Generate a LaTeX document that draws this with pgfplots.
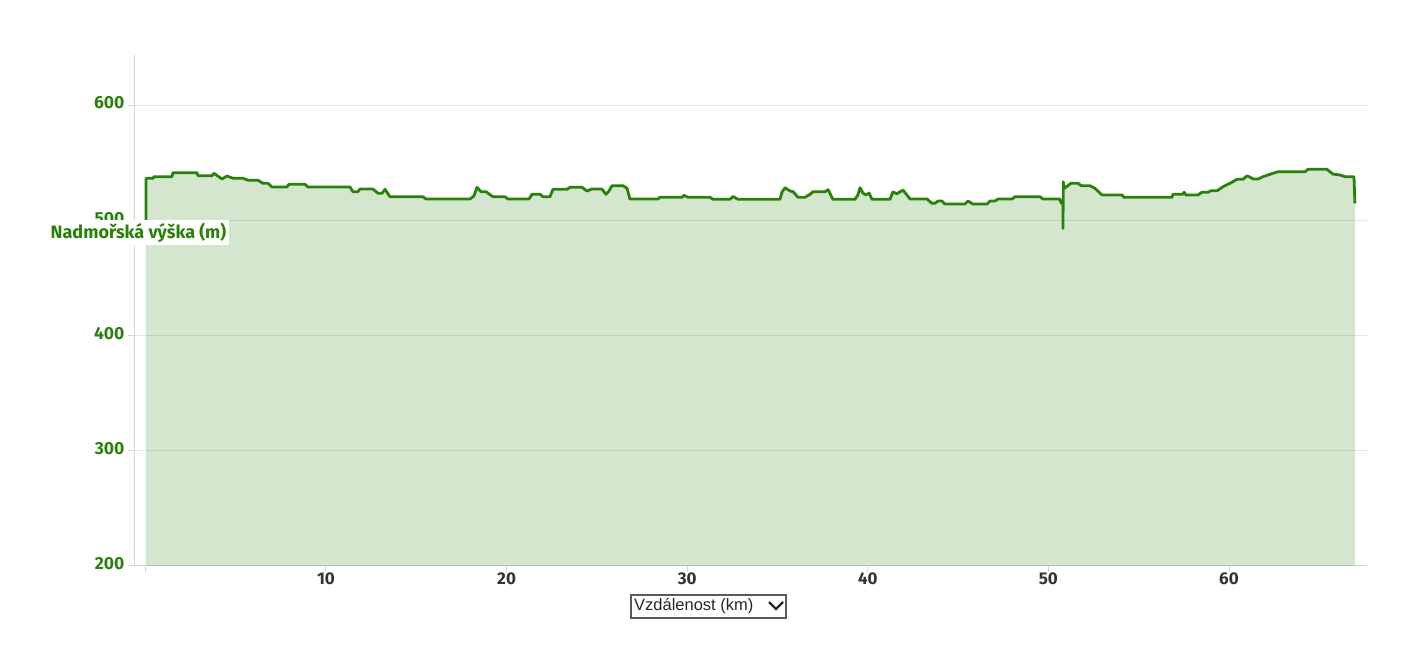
\documentclass[border=0pt]{standalone}
\usepackage{pgfplots}
\pgfplotsset{compat=1.18}
\usepackage{pgfplotstable}
\usepackage{fontspec}
\setmainfont{Liberation Sans}
\newfontfamily\tickfont{Fira Sans}
\definecolor{lg}{RGB}{40,130,10}
\definecolor{axc}{RGB}{204,214,235}
\definecolor{gridc}{RGB}{230,230,230}
\definecolor{xlab}{RGB}{51,51,51}
\definecolor{ddb}{RGB}{90,90,90}
\pgfplotstableread{
x y
0.03 500.2
0.03 536.4
0.42 536.4
0.48 537.8
1.47 537.8
1.53 541.3
2.86 541.3
2.91 538.7
3.69 538.7
3.80 540.7
4.24 535.8
4.52 538.4
4.85 536.4
5.40 536.4
5.68 534.7
6.23 534.7
6.51 532.1
6.79 532.1
7.01 528.9
7.84 528.9
7.95 531.2
8.84 531.2
9.00 528.9
11.33 528.9
11.49 524.8
11.77 524.8
11.88 527.1
12.60 527.1
12.88 523.4
13.10 523.4
13.27 526.9
13.54 520.4
15.37 520.4
15.54 518.4
17.97 518.4
18.19 521.0
18.36 528.6
18.58 524.8
18.86 524.8
19.03 522.8
19.25 520.4
19.91 520.4
20.08 518.4
21.24 518.4
21.41 522.5
21.85 522.5
22.02 520.4
22.40 520.4
22.57 526.9
23.35 526.9
23.51 528.6
24.17 528.6
24.45 525.4
24.73 527.1
25.28 527.1
25.50 522.5
25.67 525.4
25.84 530.0
26.45 530.0
26.67 527.7
26.83 518.4
28.38 518.4
28.49 519.9
29.71 519.9
29.82 521.6
30.04 519.9
31.26 519.9
31.43 518.2
32.37 518.2
32.54 520.6
32.81 518.2
35.14 518.2
35.25 524.5
35.42 528.2
35.69 525.4
35.86 524.8
36.14 519.9
36.52 519.9
36.80 522.5
36.97 524.8
37.63 524.8
37.80 526.5
38.07 518.2
39.29 518.2
39.45 521.9
39.57 528.2
39.73 523.6
39.90 521.9
40.07 523.6
40.23 518.2
41.23 518.2
41.39 524.5
41.61 523.0
41.95 526.2
42.34 518.4
43.28 518.4
43.55 514.7
43.72 514.7
43.89 516.7
44.11 516.7
44.27 514.1
45.38 514.1
45.55 516.7
45.82 514.1
46.60 514.1
46.77 516.7
47.04 516.7
47.21 518.4
47.99 518.4
48.15 520.4
49.54 520.4
49.70 518.4
50.62 518.4
50.72 514.7
50.81 514.7
50.81 492.8
50.82 533.4
50.89 527.7
51.08 530.0
51.25 532.1
51.64 532.1
51.81 530.0
52.30 530.0
52.58 527.7
52.97 521.9
54.08 521.9
54.18 519.9
56.84 519.9
56.90 522.5
57.45 522.5
57.51 524.3
57.62 521.9
58.28 521.9
58.50 524.3
58.84 524.3
59.00 525.6
59.34 525.6
59.67 529.1
60.06 532.1
60.44 535.5
60.77 535.5
60.99 538.4
61.16 537.5
61.33 535.8
61.61 535.8
61.88 537.8
62.27 539.9
62.71 542.1
64.21 542.1
64.37 544.2
65.42 544.2
65.75 540.1
66.14 539.3
66.42 537.8
66.92 537.8
66.97 514.7
}\elev
\begin{document}
\begin{tikzpicture}[x=1pt,y=1pt]
\path[use as bounding box] (0,0) rectangle (1410,650);
\begin{axis}[
  at={(134pt,84pt)}, anchor=south west, scale only axis,
  width=1233pt, height=511pt,
  xmin=-0.63, xmax=67.64, ymin=200, ymax=643.4,
  axis x line=bottom, axis y line=left,
  axis line style={-, axc, line width=1pt},
  ytick={200,300,400,500,600},
  xtick={0,10,20,30,40,50,60},
  xticklabels={,10,20,30,40,50,60},
  ymajorgrids, major grid style={gridc, line width=1pt},
  tick align=outside, major tick length=6pt,
  tick style={axc, line width=1pt},
  /pgf/number format/assume math mode=true,
  yticklabel style={text=lg, font=\tickfont\bfseries\fontsize{17.5}{17.5}\selectfont, yshift=2pt},
  xticklabel style={text=xlab, font=\tickfont\bfseries\fontsize{17}{17}\selectfont, yshift=3pt},
  clip=true,
]
\addplot[draw=none, fill=lg, fill opacity=0.2] table {\elev} \closedcycle;
\addplot[lg, line width=2.8pt, line join=round] table {\elev};
\end{axis}
\node[fill=white, text=lg, font=\tickfont\bfseries\fontsize{18}{18}\selectfont, inner sep=2pt, minimum height=25pt, minimum width=181pt] at (138.5,417.5) {Nadmořská výška (m)};
\draw[ddb, line width=1.8pt] (631,32) rectangle (786,55);
\node[anchor=west, text=black!85, font=\fontsize{16.5}{16.5}\selectfont, inner sep=0pt] at (634,43.5) {Vzdálenost (km)};
\draw[black!85, line width=2.4pt] (769,48) -- (776,41) -- (783,48);
\end{tikzpicture}
\end{document}
